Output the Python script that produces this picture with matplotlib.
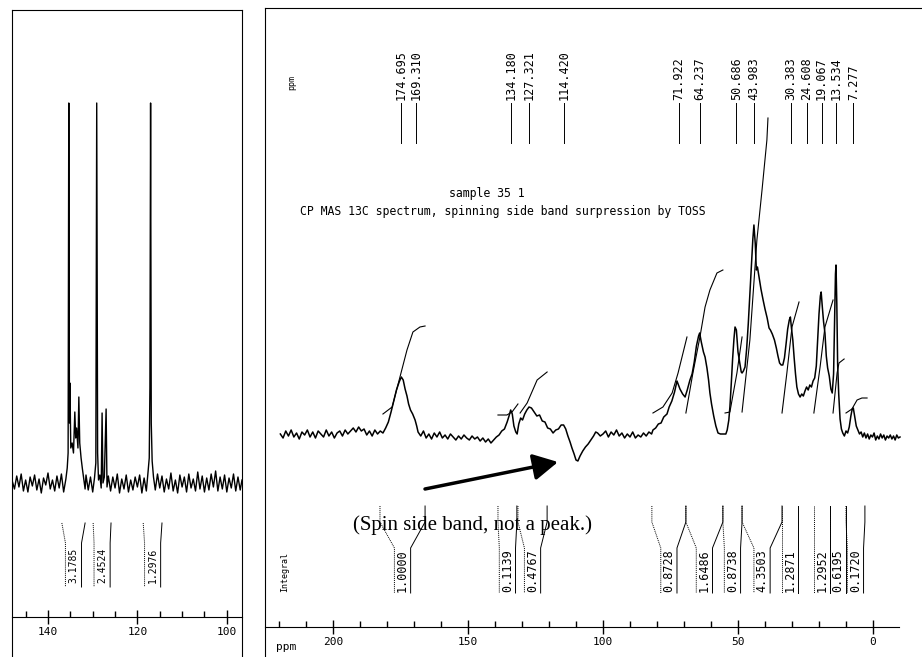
import numpy as np
import matplotlib
matplotlib.use('Agg')
import matplotlib.pyplot as plt
from matplotlib.ticker import FixedLocator, MultipleLocator

plt.rcParams['font.family'] = 'DejaVu Sans Mono'

# ---- main spectrum (ppm, height above baseline) ----
main_ppm = [
    219.5, 218.5, 217.5, 216.5, 215.5, 214.5, 213.5, 212.5, 211.5, 210.5,
    209.5, 208.5, 207.5, 206.5, 205.5, 204.5, 203.5, 202.5, 201.5, 200.5,
    199.5, 198.5, 197.5, 196.5, 195.5, 194.5, 193.5, 192.5, 191.5, 190.5,
    189.5, 188.5, 187.5, 186.5, 185.5, 184.5, 183.5, 182.5, 181.5,
    180.5, 179.5, 178.5, 177.5, 176.5, 175.5, 174.7, 174.0, 173.3, 172.6,
    172.0, 171.3, 170.5, 169.6, 169.0, 168.5,
    167.5, 166.5, 165.5, 164.5, 163.5, 162.5, 161.5, 160.5, 159.5, 158.5,
    157.5, 156.5, 155.5, 154.5, 153.5, 152.5, 151.5, 150.5, 149.5, 148.5,
    147.5, 146.5, 145.5, 144.5, 143.5, 142.5, 141.5, 140.5, 139.5, 138.5,
    137.5,
    136.5, 135.5, 134.8, 134.2, 133.6, 133.0, 132.3, 131.8, 131.2, 130.5,
    129.8, 129.0, 128.2, 127.4, 126.5, 125.5, 124.5, 123.5, 122.5, 121.5,
    120.5, 119.5, 118.5, 117.5, 116.5, 115.5, 114.6, 113.8, 113.0, 112.2,
    111.5, 110.7, 110.0, 109.3, 108.5, 107.5, 106.5, 105.5, 104.5, 103.5,
    102.7, 102.0, 101.0, 100.0,
    99, 98, 97, 96, 95, 94, 93, 92, 91, 90, 89, 88, 87, 86, 85, 84, 83, 82,
    81.5, 80.5, 79.5, 78.5, 77.5, 76.3, 75.5, 74.5, 73.5, 72.6,
    71.5, 70.5, 69.6, 68.8, 67.8, 67.0, 66.2, 65.4, 64.6, 64.2,
    63.6, 62.8, 62.2, 61.5, 60.9, 60.4, 59.8, 59.0, 58.2, 57.4,
    56.5, 55.5, 54.5, 54.0, 53.4, 53.0, 52.5, 52.0, 51.5, 51.1,
    50.6, 50.0, 49.4, 48.8, 48.5, 48.0, 47.4, 46.8, 46.2, 45.6,
    45.0, 44.5, 44.1, 43.6, 43.2, 42.8, 42.2, 41.5, 40.7, 40.0,
    39.2, 38.5, 38.0, 37.3, 36.5, 35.8, 35.2, 34.6, 34.0, 33.4,
    32.8, 32.2, 31.6, 31.0, 30.6, 30.2, 29.7, 29.2, 28.7, 28.2,
    27.6, 27.0, 26.4, 25.8, 25.2, 24.6, 24.0, 23.4, 22.8, 22.2,
    21.6, 21.0, 20.5, 20.0, 19.5, 19.2, 18.8, 18.3, 17.8, 17.3,
    16.8, 16.2, 15.6, 15.1, 14.6, 14.2, 13.9, 13.7, 13.4, 13.1,
    12.7, 12.2, 11.7, 11.2, 10.6, 10.0, 9.4, 8.8, 8.2, 7.7,
    7.3, 6.8, 6.2, 5.6, 5.0, 4.4, 3.8, 3.2, 2.6, 2.0,
    1.4, 0.8, 0.2, -0.4, -1.0, -1.6, -2.2, -2.8, -3.4, -4.0,
    -4.6, -5.2, -5.8, -6.4, -7.0, -7.6, -8.2, -8.8, -9.4, -10.0,
]
main_val = [
    0, -4, 3, -2, 4, -3, 1, -5, 2, -1,
    4, -3, 2, -4, 3, 0, -3, 4, -2, 2,
    -4, 1, 3, -2, 4, 0, 3, 6, 2, 7,
    3, 5, -1, 3, -2, 4, 0, 3, 1,
    6, 12, 22, 33, 44, 52, 57, 54, 45, 38,
    30, 24, 20, 14, 8, 2,
    -2, 3, -4, 0, -5, 1, -3, 2, -4, -1,
    -5, 0, -3, -6, -2, -5, -1, -4, -6, -2,
    -5, -3, -7, -4, -8, -5, -9, -6, -3, -1,
    3,
    5, 12, 18, 24, 20, 8, 2, 0, 10, 16,
    14, 20, 24, 27, 26, 22, 18, 19, 13, 12,
    6, 5, 1, 4, 5, 9, 9, 5, -2, -8,
    -14, -20, -26, -27, -22, -17, -13, -10, -6, -2,
    2, 1, -2, 0,
    3, -3, 2, -1, 4, -2, 1, -4, 0, -3, 2, -4, -1, -3, 1, -2, 2, 0,
    4, 6, 10, 11, 17, 20, 27, 33, 42, 53,
    45, 40, 37, 44, 54, 60, 72, 88, 98, 101,
    92, 82, 77, 66, 54, 41, 30, 18, 8, 1,
    0, 0, 0, 4, 14, 27, 50, 75, 95, 107,
    104, 82, 72, 62, 61, 63, 67, 85, 110, 140,
    170, 195, 209, 190, 164, 167, 157, 145, 134, 125,
    116, 106, 104, 100, 94, 86, 78, 71, 69, 69,
    76, 90, 105, 114, 117, 106, 94, 76, 60, 47,
    40, 37, 40, 38, 43, 47, 44, 49, 47, 53,
    56, 68, 95, 120, 138, 142, 128, 112, 101, 78,
    66, 58, 45, 41, 60, 120, 160, 169, 130, 70,
    40, 15, 5, 1, -2, 3, 1, 7, 18, 25,
    26, 18, 8, 4, 0, 2, -3, 1, -4, 0,
    -5, -1, -3, 1, -6, -2, -5, 0, -4, -1,
    -6, -2, -4, -1, -5, -2, -6, -1, -4, -3,
]

# integral traces
integ_ppm = [
    [181.5, 178.1, 175.2, 172.6, 170.4, 167.8, 165.9],
    [138.9, 135.6, 133.7, 131.5],
    [130.7, 128.1, 124.4, 120.7],
    [81.5, 77.8, 74.4, 72.2, 68.9],
    [69.3, 66.7, 64.1, 62.2, 60.4, 57.8, 55.6],
    [54.8, 53.0, 50.4, 48.5],
    [48.5, 45.6, 43.0, 41.1, 39.3, 38.9],
    [33.7, 31.9, 30.0, 27.4],
    [21.9, 19.6, 17.8, 14.8],
    [14.8, 13.3, 12.6, 10.7],
    [10.0, 7.8, 5.9, 4.1, 2.2],
]
integ_val = [
    [20, 27, 57, 84, 102, 107, 108],
    [19, 19, 22, 30],
    [21, 31, 54, 62],
    [21, 27, 41, 61, 97],
    [21, 61, 97, 127, 144, 161, 164],
    [21, 22, 61, 97],
    [22, 94, 194, 244, 294, 316],
    [21, 61, 107, 132],
    [21, 67, 107, 134],
    [21, 61, 71, 75],
    [21, 25, 34, 36, 36],
]

# integral regions and values printed below the spectrum
int_lo = [182.6, 138.9, 131.5, 81.9, 69.3, 55.6, 48.5, 33.7, 21.9, 15.9, 10.0]
int_hi = [165.9, 131.9, 120.7, 69.3, 55.6, 48.5, 33.7, 27.8, 15.9, 10.0, 3.0]
int_txt = ['1.0000', '0.1139', '0.4767', '0.8728', '1.6486', '0.8738',
           '4.3503', '1.2871', '1.2952', '0.6195', '0.1720']

peak_ppm = [174.695, 169.310, 134.180, 127.321, 114.420, 71.922, 64.237,
            50.686, 43.983, 30.383, 24.608, 19.067, 13.534, 7.277]

# ---- expanded aromatic region (left panel) ----
left_ppm = [
    148, 147.5, 147, 146.5, 146, 145.5, 145, 144.5, 144, 143.5,
    143, 142.5, 142, 141.5, 141, 140.5, 140, 139.5, 139, 138.5,
    138, 137.5, 137, 136.5, 136,
    135.7, 135.5, 135.35, 135.2, 135.1, 134.9, 134.6, 134.3, 134.0, 133.8,
    133.6, 133.3, 133.1, 132.9, 132.6, 132.3, 132.0, 131.7,
    131.5, 131.0, 130.5, 130.0, 129.6, 129.3, 129.1, 128.9, 128.7, 128.4,
    128.1, 127.9, 127.7, 127.4, 127.0, 126.8, 126.5,
    126, 125.5, 125, 124.5, 124, 123.5, 123, 122.5, 122, 121.5,
    121, 120.5, 120, 119.5, 119, 118.5, 118,
    117.6, 117.35, 117.2, 117.05, 116.9, 116.7, 116.4,
    116, 115.5, 115, 114.5, 114, 113.5, 113, 112.5, 112, 111.5,
    111, 110.5, 110, 109.5, 109, 108.5, 108, 107.5, 107, 106.5,
    106, 105.5, 105, 104.5, 104, 103.5, 103, 102.5, 102, 101.5,
    101, 100.5, 100, 99.5, 99, 98.5, 98, 97.5, 97, 96.6,
]
left_val = [
    2, -6, 7, -4, 9, -8, 3, -9, 6, -3,
    8, -7, 4, -10, 5, -2, 10, -6, 3, -8,
    7, -5, 9, -9, 4,
    15, 30, 380, 60, 100, 35, 40, 30, 71, 45,
    55, 35, 86, 40, 25, 14, 4, -6,
    8, -7, 6, -9, 5, 20, 380, 30, 3, 8,
    -5, 70, 0, 6, 74, -4, 7,
    -8, 6, -5, 9, -10, 4, -6, 8, -9, 3,
    -7, 6, -4, 8, -10, 5, -8,
    12, 25, 96, 380, 60, 22, 6,
    -7, 9, -5, 7, -9, 4, -6, 10, -8, 3,
    -10, 8, -4, 6, -9, 9, -5, 4, -8, 11,
    -6, 7, -9, 5, -7, 9, -4, 12, -8, 6,
    -6, 8, -9, 5, -5, 9, -8, 6, -7, 3,
]
left_int_lo = [136.9, 129.9, 118.7]
left_int_hi = [131.7, 125.9, 114.5]
left_int_txt = ['3.1785', '2.4524', '1.2976']

W, H = 922, 657


def box(x0, y0, x1, y1):
    return [x0 / W, 1 - y1 / H, (x1 - x0) / W, (y1 - y0) / H]


# pixel -> data helpers for placing annotations
def mx(px):
    return (873 - px) / 2.7


def my(py):
    return 434 - py


def lx(px):
    return 140 - (px - 48) / 4.47


def ly(py):
    return 483 - py


def bracket(ax, lo, hi, txt, ytop, yk1, yk2, ybot, half, fs):
    c = (lo + hi) / 2
    bl = min(lo, c + half)
    br = max(hi, c - half)
    ax.plot([lo, lo, bl, bl], [ytop, yk1, yk2, ybot], color='k', lw=0.7, ls=(0, (1, 1)))
    ax.plot([hi, hi, br, br], [ytop, yk1, yk2, ybot], color='k', lw=0.7)
    ax.text(c, (yk2 + ybot) / 2, txt, rotation=90, ha='center', va='center', fontsize=fs)


def ruler(rect, xlim, major, step, fs):
    r = fig.add_axes(rect)
    r.set_xlim(*xlim)
    r.set_ylim(0, 1)
    for s in ('top', 'left', 'right'):
        r.spines[s].set_visible(False)
    r.patch.set_alpha(0)
    r.set_yticks([])
    r.xaxis.set_major_locator(FixedLocator(major))
    r.xaxis.set_minor_locator(MultipleLocator(step))
    r.tick_params(axis='x', which='major', direction='inout', length=10, width=1,
                  labelsize=fs, pad=2)
    r.tick_params(axis='x', which='minor', direction='in', length=4, width=1)
    return r


fig = plt.figure(figsize=(9.22, 6.57), dpi=100)

# left panel
axl = fig.add_axes(box(12, 10, 242, 657))
axl.set_xlim(lx(12), lx(242))
axl.set_ylim(ly(657), ly(10))
axl.spines['bottom'].set_visible(False)
axl.set_xticks([])
axl.set_yticks([])
axl.plot(left_ppm, left_val, color='k', lw=1.0)
for lo, hi, t in zip(left_int_lo, left_int_hi, left_int_txt):
    bracket(axl, lo, hi, t, ly(523), ly(523), ly(543), ly(587), 1.8, 7)
ruler(box(12, 590, 242, 617), (lx(12), lx(242)), [140, 120, 100], 5, 8)

# main panel
ax = fig.add_axes(box(265, 8, 922, 657))
ax.set_xlim(mx(265), mx(922))
ax.set_ylim(my(657), my(8))
ax.spines['bottom'].set_visible(False)
ax.spines['right'].set_visible(False)
ax.set_xticks([])
ax.set_yticks([])

ax.plot(main_ppm, main_val, color='k', lw=1.1)
for xs, ys in zip(integ_ppm, integ_val):
    ax.plot(xs, ys, color='k', lw=0.8)

for p in peak_ppm:
    ax.plot([p, p], [my(103), my(143)], color='k', lw=0.7)
    ax.text(p, my(100), f'{p:.3f}', rotation=90, ha='center', va='bottom', fontsize=8.5)
ax.text(mx(292), my(83), 'ppm', rotation=90, ha='center', va='center', fontsize=6)

ax.text(mx(487), my(193), 'sample 35 1', ha='center', va='center', fontsize=8.3)
ax.text(mx(503), my(212), 'CP MAS 13C spectrum, spinning side band surpression by TOSS',
        ha='center', va='center', fontsize=8.3)

for lo, hi, t in zip(int_lo, int_hi, int_txt):
    bracket(ax, lo, hi, t, my(506), my(522), my(548), my(593), 3.0, 8.5)
ax.text(mx(285), my(572), 'Integral', rotation=90, ha='center', va='center', fontsize=6)

ax.annotate('', xy=(mx(558), my(462)), xytext=(mx(425), my(489)),
            arrowprops=dict(arrowstyle='-|>,head_length=0.75,head_width=0.4',
                            mutation_scale=20, lw=2.5, color='k', shrinkA=0, shrinkB=0))
ax.text(mx(473), my(525), '(Spin side band, not a peak.)', ha='center', va='center',
        fontsize=15, family='Liberation Serif')

ruler(box(265, 600, 899, 627), (mx(265), mx(899)), [200, 150, 100, 50, 0], 10, 8)
ax.text(mx(286), my(647), 'ppm', ha='center', va='center', fontsize=8)

fig.savefig('out.png', dpi=100)
